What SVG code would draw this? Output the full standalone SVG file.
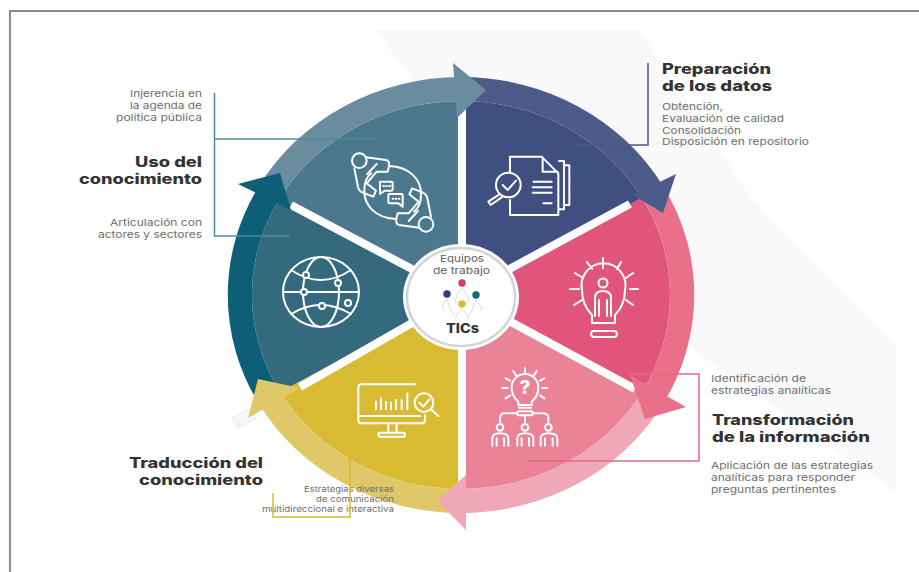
<svg xmlns="http://www.w3.org/2000/svg" xmlns:xlink="http://www.w3.org/1999/xlink" width="919" height="572" viewBox="0 0 919 572">
<style>
text{font-family:"Inter","Liberation Sans",sans-serif}
.s{font-size:9.5px;fill:#6e6e6e;font-weight:400}
.m{font-size:8px;fill:#6e6e6e;font-weight:400}
.t{font-size:14px;fill:#333;font-weight:800}
.e{text-anchor:end}
.i{fill:none;stroke:#fff;stroke-width:2;stroke-linecap:round;stroke-linejoin:round}
.z{fill:none;stroke:#fff;stroke-width:6;stroke-linecap:round;stroke-linejoin:round}
.c{fill:none;stroke-width:1.5}
.gap{stroke:#fff;stroke-width:8}
</style>
<defs>
<g id="person">
<circle cx="418" cy="302" r="22"/>
<path d="M438,292L498,300Q510,303 507,318L503,335L470,335L440,370L468,392L460,410L428,398Q420,395 415,385L403,325M442,342L470,312M507,318C570,320 605,360 603,405C603,425 595,445 582,455"/>
</g>
</defs>
<rect width="919" height="572" fill="#fff"/>
<path id="backdrop" d="M375,30H640L753,200L896,345V492L693,350L500,200L410,77Z" fill="#f9f9fa"/>
<path d="M10,572V11H919" fill="none" stroke="#8e8e8e" stroke-width="2"/>
<path d="M232,418L250,408L256,418L238,428Z" fill="#f7f7f7" stroke="#e8e8e8"/>

<g id="sectors">
<path d="M461,295L461,101A209 194 0 0 0 280,198Z" fill="#4b788c"/>
<path d="M461,295L461,101A209 194 0 0 1 642,198Z" fill="#3f4f80"/>
<path d="M461,295L642,198A209 194 0 0 1 642,392Z" fill="#e2557a"/>
<path d="M461,295L642,392A209 194 0 0 1 461,489Z" fill="#ea8298"/>
<path d="M461,295L461,489A209 194 0 0 1 280,392Z" fill="#d9bb33"/>
<path d="M461,295L280,392A209 194 0 0 1 280,198Z" fill="#35697e"/>
<path class="gap" d="M462,295V101M461,295L291,205M461,295L630,204M461,295L635,389M461,295L300,387M462,295V489"/>
</g>

<g id="bands">
<path d="M259,186A233 218 0 0 1 461,77L461,101A209 194 0 0 0 280,198Z" fill="#6a8c9f"/>
<path d="M461,77A233 218 0 0 1 663,186L642,198A209 194 0 0 0 461,101Z" fill="#4d5b8b"/>
<path d="M663,186A233 218 0 0 1 663,404L642,392A209 194 0 0 0 642,198Z" fill="#e96f8b"/>
<path d="M663,404A233 218 0 0 1 461,513L461,489A209 194 0 0 0 642,392Z" fill="#f0a8b8"/>
<path d="M461,513A233 218 0 0 1 259,404L280,392A209 194 0 0 0 461,489Z" fill="#e0c868"/>
<path d="M259,404A233 218 0 0 1 259,186L280,198A209 194 0 0 0 280,392Z" fill="#0d5f78"/>
<path d="M453,63L486,90L457,118Z" fill="#6a8c9f"/>
<path d="M676,174L663,213L633,195Z" fill="#4d5b8b"/>
<path d="M686,407L645,419L630,375Z" fill="#e96f8b"/>
<path d="M466,475L437,501L466,530Z" fill="#f0a8b8"/>
<path d="M258,379L248,418L300,388Z" fill="#e0c868"/>
<path d="M238,184L280,173L291,210Z" fill="#0d5f78"/>
</g>

<g id="node-uso-articulacion">
<ellipse class="i" cx="321" cy="292" rx="38" ry="35"/>
<ellipse class="i" cx="321" cy="292" rx="18" ry="35"/>
<path class="i" d="M283,292H300M308,292H359M291,270Q321,290 351,270M291,314Q321,296 351,314"/>
<circle class="i" cx="306" cy="275" r="3" style="fill:#35697e"/><circle class="i" cx="338" cy="283" r="3" style="fill:#35697e"/><circle class="i" cx="304" cy="292" r="3" style="fill:#35697e"/><circle class="i" cx="322" cy="306" r="3" style="fill:#35697e"/><circle class="i" cx="348" cy="303" r="3" style="fill:#35697e"/>
<text class="s e" x="202" y="226" textLength="92" lengthAdjust="spacingAndGlyphs">Articulación con</text>
<text class="s e" x="202" y="238" textLength="104" lengthAdjust="spacingAndGlyphs">actores y sectores</text>
</g>

<g id="node-uso">
<g transform="translate(220,60) scale(.33333)">
<use class="z" href="#person"/>
<use class="z" href="#person" transform="rotate(180 518 397.5)"/>
<path class="z" d="M482,365H514Q518,365 518,369V388Q518,392 514,392H494L480,402V369Q478,365 482,365Z"/>
<path class="z" d="M509,402H544Q548,402 548,406V426V440L535,430H509Q505,430 505,426V406Q505,402 509,402Z"/>
<path class="z" stroke-dasharray="2 7" d="M490,378H510M518,416H538"/>
</g>
<text class="s e" x="202" y="97" textLength="72" lengthAdjust="spacingAndGlyphs">Injerencia en</text>
<text class="s e" x="202" y="109" textLength="72" lengthAdjust="spacingAndGlyphs">la agenda de</text>
<text class="s e" x="202" y="121" textLength="86" lengthAdjust="spacingAndGlyphs">política pública</text>
<text class="t e" x="202" y="167" textLength="67" lengthAdjust="spacingAndGlyphs">Uso del</text>
<text class="t e" x="202" y="184" textLength="123" lengthAdjust="spacingAndGlyphs">conocimiento</text>
</g>

<g id="node-preparacion">
<g transform="translate(460,60) scale(.33333)">
<path class="z" d="M150,335V290H245L295,340V465H150V420M248,295V335H293M297,303H312V448H297M315,316H328V435H312M220,365H275M218,382H275M218,398H275M250,430H275"/>
<circle class="z" cx="145" cy="375" r="37"/>
<path class="z" d="M128,375L143,390L168,362M118,403L85,425L92,435L125,412"/>
</g>
<text class="t" x="662" y="74" textLength="109" lengthAdjust="spacingAndGlyphs">Preparación</text>
<text class="t" x="662" y="91" textLength="110" lengthAdjust="spacingAndGlyphs">de los datos</text>
<text class="s" x="662" y="110" textLength="61" lengthAdjust="spacingAndGlyphs">Obtención,</text>
<text class="s" x="662" y="122" textLength="122" lengthAdjust="spacingAndGlyphs">Evaluación de calidad</text>
<text class="s" x="662" y="133.500" textLength="79" lengthAdjust="spacingAndGlyphs">Consolidación</text>
<text class="s" x="662" y="145" textLength="147" lengthAdjust="spacingAndGlyphs">Disposición en repositorio</text>
</g>

<g id="node-bombilla">
<path class="i" d="M592,323V315Q582,305 582,290A22 22 0 1 1 625,290Q625,305 615,315V323ZM603,258V268M587,262L592,269M621,262L617,269M575,273L583,278M633,273L626,278M570,289H579M630,289H638M574,305L582,300M633,305L626,300"/>
<rect class="i" x="591" y="331" width="26" height="6" rx="3"/>
<circle class="i" cx="603" cy="283" r="4.500"/>
<path class="i" d="M595,316V298Q595,291 603,291Q611,291 611,298V316M599,300V316M607,300V316"/>
</g>

<g id="node-transformacion">
<g transform="translate(460,290) scale(.33333)">
<path class="z" d="M175,345V335Q155,320 155,292A40 40 0 1 1 235,292Q235,320 215,335V345ZM177,353H213M195,235V250M160,243L168,256M230,243L222,256M137,265L150,272M253,265L240,272M127,294H143M247,294H262M137,325L150,316M253,325L240,316"/>
<rect class="z" x="172" y="364" width="46" height="12" rx="5"/>
<path class="z" d="M170,370H135Q120,370 120,385V395M220,370H250Q265,370 265,385V395M195,376V395"/>
<circle class="z" cx="120" cy="412" r="10"/><circle class="z" cx="195" cy="412" r="10"/><circle class="z" cx="265" cy="412" r="10"/>
<path class="z" d="M97,467V445Q97,430 120,430Q145,430 145,445V467M110,445V467M132,445V467M172,467V445Q172,430 195,430Q220,430 220,445V467M185,445V467M207,445V467M242,467V445Q242,430 265,430Q292,430 292,445V467M255,445V467M278,445V467"/>
</g>
<text x="525" y="394" font-size="19" font-weight="800" fill="#fff" text-anchor="middle">?</text>
<text class="s" x="711" y="382" textLength="95" lengthAdjust="spacingAndGlyphs">Identificación de</text>
<text class="s" x="711" y="394" textLength="120" lengthAdjust="spacingAndGlyphs">estrategias analíticas</text>
<text class="t" x="712" y="425" textLength="142" lengthAdjust="spacingAndGlyphs">Transformación</text>
<text class="t" x="712" y="442" textLength="158" lengthAdjust="spacingAndGlyphs">de la información</text>
<text class="s" x="711" y="469" textLength="162" lengthAdjust="spacingAndGlyphs">Aplicación de las estrategias</text>
<text class="s" x="711" y="481" textLength="144" lengthAdjust="spacingAndGlyphs">analíticas para responder</text>
<text class="s" x="711" y="492.500" textLength="125" lengthAdjust="spacingAndGlyphs">preguntas pertinentes</text>
</g>

<g id="node-traduccion">
<g transform="translate(220,290) scale(.33333)">
<path class="z" d="M585,283H425Q415,283 415,293V390Q415,400 425,400H605Q615,400 615,390V375M415,378H600M505,403V428M530,403V428"/>
<rect class="z" x="475" y="428" width="80" height="12" rx="5"/>
<path class="z" d="M468,335V358M483,325V358M498,335V358M513,338V358M528,330V358M545,330V358M562,310V358"/>
<circle class="z" cx="612" cy="338" r="28"/>
<path class="z" d="M598,338L610,350L628,328M635,360L655,378"/>
</g>
<text class="t e" x="263" y="468" textLength="134" lengthAdjust="spacingAndGlyphs">Traducción del</text>
<text class="t e" x="263" y="485" textLength="124" lengthAdjust="spacingAndGlyphs">conocimiento</text>
<text class="m e" x="394" y="492" textLength="90" lengthAdjust="spacingAndGlyphs">Estrategias diversas</text>
<text class="m e" x="394" y="502" textLength="78" lengthAdjust="spacingAndGlyphs">de comunicación</text>
<text class="m e" x="394" y="512" textLength="132" lengthAdjust="spacingAndGlyphs">multidireccional e interactiva</text>
</g>

<g id="node-hub">
<ellipse cx="461" cy="297" rx="58" ry="53" fill="#fff"/>
<ellipse cx="461" cy="297" rx="54" ry="49" fill="#fff" stroke="#d2d5d2" stroke-width="2.500"/>
<text x="462" y="262" font-size="9.500" fill="#5e5e5e" text-anchor="middle" textLength="44" lengthAdjust="spacingAndGlyphs">Equipos</text>
<text x="461.500" y="273.500" font-size="9.500" fill="#5e5e5e" text-anchor="middle" textLength="57" lengthAdjust="spacingAndGlyphs">de trabajo</text>
<path d="M462,288Q454,296 456,304M462,288Q470,296 468,304M447,299Q450,310 454,316M447,299Q442,305 442,310M476,300Q473,310 469,316M476,300Q481,305 482,310M462,309Q456,314 455,319M462,309Q468,314 469,319" fill="none" stroke="#dcdcdc"/>
<circle cx="462" cy="283" r="3.700" fill="#d93a68"/>
<circle cx="447" cy="294" r="3.700" fill="#2e3f78"/>
<circle cx="476" cy="295" r="3.700" fill="#0d6a78"/>
<circle cx="462" cy="304" r="3.700" fill="#dcbc2c"/>
<text x="462.500" y="333" font-size="13" font-weight="800" fill="#333" text-anchor="middle" textLength="33" lengthAdjust="spacingAndGlyphs">TICs</text>
</g>

<g id="connectors">
<path class="c" stroke="#4f8a9a" d="M214.500,93V236H290M214.500,139H376"/>
<path class="c" stroke="#4a5a8c" d="M648,63V145H573"/>
<path class="c" stroke="#e6688a" d="M630,374H699V461H528"/>
<path class="c" stroke="#d9bb33" d="M350,425V517H273V493"/>
</g>
</svg>
